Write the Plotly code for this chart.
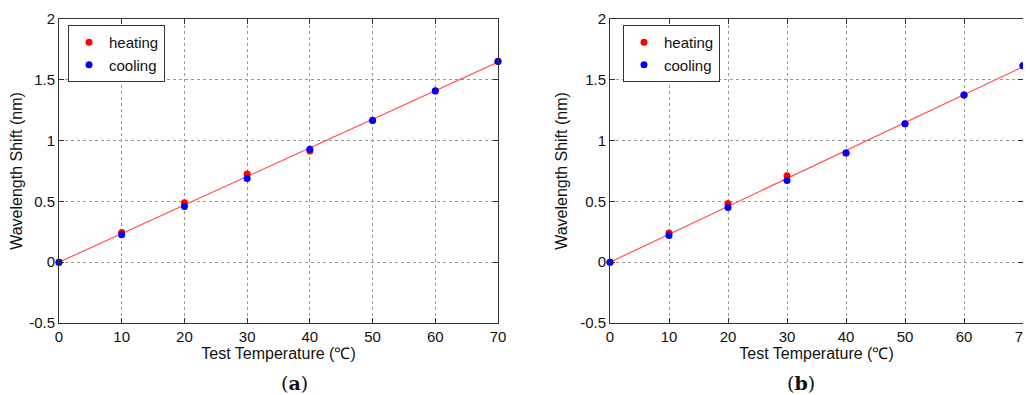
import plotly.graph_objects as go

temps = [0, 10, 20, 30, 40, 50, 60, 70]
heat_a = [0.0, 0.244, 0.488, 0.726, 0.915, 1.168, 1.41, 1.652]
cool_a = [0.0, 0.225, 0.458, 0.688, 0.929, 1.165, 1.408, 1.651]
heat_b = [0.0, 0.241, 0.482, 0.71, 0.899, 1.138, 1.376, 1.615]
cool_b = [0.0, 0.219, 0.45, 0.672, 0.899, 1.138, 1.376, 1.615]
fit_x = [0, 70]
fit_a = [0.0, 1.645]
fit_b = [0.0, 1.607]
xticks = [0, 10, 20, 30, 40, 50, 60, 70]
yticks = [-0.5, 0, 0.5, 1, 1.5, 2]
ylabels = ["-0.5", "0", "0.5", "1", "1.5", "2"]
panel_labels = ["(<b>a</b>)", "(<b>b</b>)"]

FONT = "Liberation Sans, Arial, sans-serif"
fig = go.Figure()

for i, (h, c, f) in enumerate([(heat_a, cool_a, fit_a), (heat_b, cool_b, fit_b)]):
    xa = "x" if i == 0 else "x2"
    ya = "y" if i == 0 else "y2"
    lg = "legend" if i == 0 else "legend2"
    fig.add_trace(go.Scatter(x=fit_x, y=f, mode="lines", line=dict(color="#ff5555", width=1.2),
                             xaxis=xa, yaxis=ya, showlegend=False, hoverinfo="skip"))
    fig.add_trace(go.Scatter(x=temps, y=h, mode="markers", name="heating", cliponaxis=False,
                             marker=dict(color="#ff0000", size=7), xaxis=xa, yaxis=ya, legend=lg))
    fig.add_trace(go.Scatter(x=temps, y=c, mode="markers", name="cooling", cliponaxis=False,
                             marker=dict(color="#0000ff", size=7), xaxis=xa, yaxis=ya, legend=lg))

# The page body has an 8px margin, so the figure is 8px smaller and offset.
OFF = 8
W, H = 1031 - OFF, 395 - OFF


def px_x(p):
    return (p - OFF) / W


def px_y(p):
    return 1 - (p - OFF) / H


doms = [[px_x(59), px_x(498)], [px_x(610), px_x(1023)]]
ydom = [px_y(323), px_y(19)]

axis_common = dict(
    showline=True, linecolor="#333333", linewidth=1, mirror="allticks",
    ticks="inside", ticklen=5, tickcolor="#333333", automargin=False,
    ticklabeloverflow="allow",
    showgrid=True, gridcolor="#999999", griddash="dot", gridwidth=1,
    zeroline=False, tickfont=dict(family=FONT, size=15, color="#111111"),
)

layout = dict(
    width=W, height=H, margin=dict(l=0, r=0, t=0, b=0, autoexpand=False),
    paper_bgcolor="white", plot_bgcolor="white",
    font=dict(family=FONT, size=15, color="#111111"),
)
for i in range(2):
    sx = "" if i == 0 else "2"
    layout["xaxis" + sx] = dict(
        axis_common, domain=doms[i], range=[0, 70], tickvals=xticks,
        anchor="y" + sx,
        title=dict(text="Test Temperature (℃)", font=dict(family=FONT, size=16), standoff=1),
    )
    layout["yaxis" + sx] = dict(
        axis_common, domain=ydom, range=[-0.5, 2], tickvals=yticks, ticktext=ylabels,
        anchor="x" + sx,
        title=dict(text="Wavelength Shift (nm)", font=dict(family=FONT, size=16), standoff=8),
    )

legend_common = dict(xanchor="left", yanchor="top", bordercolor="#333333", borderwidth=1,
                     bgcolor="white", font=dict(family=FONT, size=15), tracegroupgap=0,
                     itemwidth=30)
layout["legend"] = dict(legend_common, x=px_x(68), y=px_y(25))
layout["legend2"] = dict(legend_common, x=px_x(623), y=px_y(25))

fig.update_layout(**layout)

centers = [px_x((59 + 498) / 2), px_x((610 + 1023) / 2)]
for i in range(2):
    fig.add_annotation(x=centers[i], y=px_y(383), xref="paper", yref="paper",
                       text=panel_labels[i], showarrow=False, yanchor="middle",
                       font=dict(family="DejaVu Serif, Liberation Serif, serif", size=19, color="#111111"))

fig.write_html("out.html")
